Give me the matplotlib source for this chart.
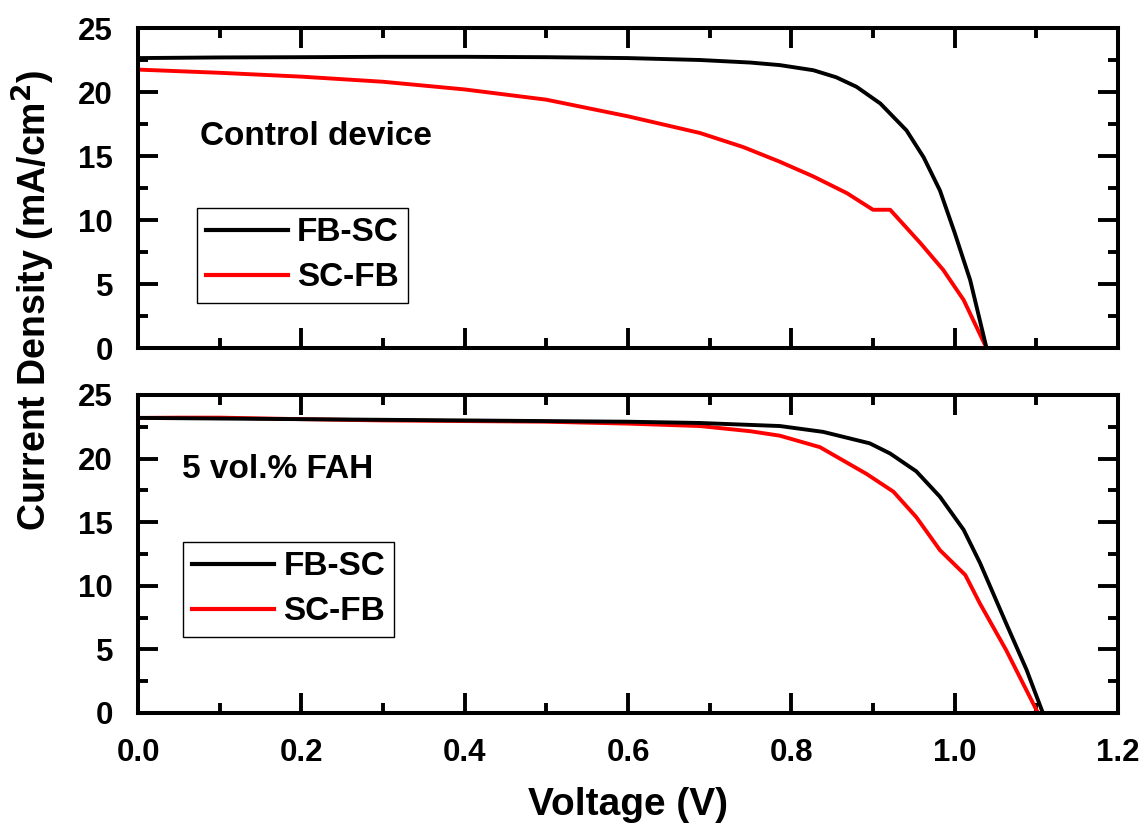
import matplotlib
matplotlib.use("Agg")
import matplotlib.pyplot as plt
from matplotlib.ticker import MultipleLocator

plt.rcParams['font.family'] = ['Liberation Sans', 'DejaVu Sans']
plt.rcParams['font.weight'] = 'bold'

# control device
v_ctrl_fb = [0.0, 0.1, 0.2, 0.3, 0.4, 0.5, 0.6, 0.688, 0.75, 0.786, 0.827, 0.855, 0.88,
             0.909, 0.941, 0.962, 0.982, 1.0, 1.019, 1.039]
j_ctrl_fb = [22.65, 22.7, 22.72, 22.75, 22.75, 22.72, 22.65, 22.5, 22.3, 22.1, 21.7, 21.15,
             20.4, 19.1, 17.0, 14.9, 12.3, 9.0, 5.3, 0.0]
v_ctrl_sc = [0.0, 0.1, 0.2, 0.3, 0.4, 0.5, 0.6, 0.688, 0.741, 0.786, 0.827, 0.868, 0.9,
             0.921, 0.958, 0.986, 1.011, 1.039]
j_ctrl_sc = [21.75, 21.5, 21.2, 20.8, 20.2, 19.4, 18.1, 16.8, 15.7, 14.55, 13.4, 12.1,
             10.8, 10.8, 8.2, 6.1, 3.75, 0.0]

# 5 vol.% FAH
v_fah_fb = [0.0, 0.1, 0.2, 0.3, 0.4, 0.5, 0.6, 0.688, 0.786, 0.839, 0.896, 0.921, 0.953,
            0.982, 1.011, 1.031, 1.063, 1.088, 1.108]
j_fah_fb = [23.2, 23.15, 23.1, 23.05, 23.0, 22.95, 22.9, 22.8, 22.56, 22.1, 21.2, 20.4,
            19.0, 17.0, 14.4, 11.8, 7.05, 3.4, 0.0]
v_fah_sc = [0.0, 0.05, 0.1, 0.2, 0.3, 0.4, 0.5, 0.6, 0.688, 0.75, 0.786, 0.835, 0.892,
            0.925, 0.953, 0.982, 1.013, 1.031, 1.063, 1.102]
j_fah_sc = [23.2, 23.22, 23.22, 23.1, 23.0, 22.95, 22.9, 22.75, 22.56, 22.15, 21.8, 20.9,
            18.8, 17.4, 15.4, 12.8, 10.85, 8.6, 4.95, 0.0]

W, H = 1148, 839
fig = plt.figure(figsize=(W / 100, H / 100), dpi=100)
ax1 = fig.add_axes([138 / W, 1 - 348 / H, 980 / W, 320 / H])
ax2 = fig.add_axes([138 / W, 1 - 713 / H, 980 / W, 318 / H])

lw = 2.8
ax1.plot(v_ctrl_fb, j_ctrl_fb, color='black', lw=lw, label='FB-SC', zorder=3)
ax1.plot(v_ctrl_sc, j_ctrl_sc, color='red', lw=lw, label='SC-FB', zorder=2)
ax2.plot(v_fah_fb, j_fah_fb, color='black', lw=lw, label='FB-SC', zorder=3)
ax2.plot(v_fah_sc, j_fah_sc, color='red', lw=lw, label='SC-FB', zorder=2)

for ax in (ax1, ax2):
    ax.set_xlim(0, 1.2)
    ax.set_ylim(0, 25)
    ax.xaxis.set_major_locator(MultipleLocator(0.2))
    ax.xaxis.set_minor_locator(MultipleLocator(0.1))
    ax.yaxis.set_major_locator(MultipleLocator(5))
    ax.yaxis.set_minor_locator(MultipleLocator(2.5))
    ax.tick_params(which='both', direction='in', top=True, right=True, width=2.8,
                   labelsize=22.5, pad=18)
    ax.tick_params(which='major', length=14.5)
    ax.tick_params(which='minor', length=7.5)
    for s in ax.spines.values():
        s.set_linewidth(2.9)
    for lbl in ax.get_xticklabels() + ax.get_yticklabels():
        lbl.set_fontweight('bold')

ax1.tick_params(labelbottom=False)
ax2.set_xticks([0.0, 0.2, 0.4, 0.6, 0.8, 1.0, 1.2])
ax2.set_xticklabels(['0.0', '0.2', '0.4', '0.6', '0.8', '1.0', '1.2'], fontweight='bold')

leg_kw = dict(frameon=True, fancybox=False, edgecolor='black', framealpha=1,
              handlelength=2.45, borderpad=0.28, labelspacing=0.42, handletextpad=0.28,
              borderaxespad=0, prop={'weight': 'bold', 'size': 24})
leg1 = ax1.legend(loc='upper left', bbox_to_anchor=(0.060, 0.4375), **leg_kw)
leg2 = ax2.legend(loc='upper left', bbox_to_anchor=(0.046, 0.538), **leg_kw)
for lg in (leg1, leg2):
    lg.get_frame().set_linewidth(1.0)
    for h in lg.get_lines():
        h.set_linewidth(3.0)

ax1.text(0.063, 0.634, 'Control device', transform=ax1.transAxes, fontsize=24,
         fontweight='bold', va='baseline')
ax2.text(0.045, 0.739, '5 vol.% FAH', transform=ax2.transAxes, fontsize=24,
         fontweight='bold', va='baseline')

ax2.set_xlabel('Voltage (V)', fontsize=28, fontweight='bold', labelpad=14)
fig.text(33 / W, 1 - 300 / H, 'Current Density (mA/cm$^\\mathbf{2}$)', rotation=90,
         fontsize=27, fontweight='bold', ha='center', va='center')

fig.savefig('out.png', dpi=100)
